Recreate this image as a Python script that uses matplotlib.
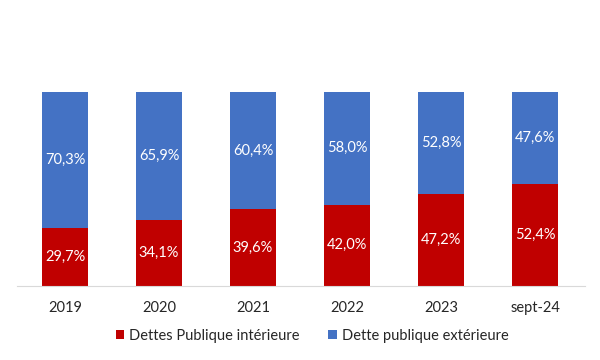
import matplotlib
matplotlib.use("Agg")
import matplotlib.pyplot as plt
import numpy as np

categories = ["2019", "2020", "2021", "2022", "2023", "sept-24"]
interieure = [29.7, 34.1, 39.6, 42.0, 47.2, 52.4]
exterieure = [70.3, 65.9, 60.4, 58.0, 52.8, 47.6]

RED = "#C00000"
BLUE = "#4472C4"

plt.rcParams["font.family"] = ["Lato", "DejaVu Sans"]

fig = plt.figure(figsize=(6, 3.6), dpi=100)
ax = fig.add_axes([17 / 600, 1 - 286 / 360, 568 / 600, 194 / 360])

x = np.arange(len(categories))
w = 0.49
b1 = ax.bar(x, interieure, w, color=RED, label="Dettes Publique intérieure")
b2 = ax.bar(x, exterieure, w, bottom=interieure, color=BLUE, label="Dette publique extérieure")

fmt = lambda v: f"{v:.1f}%".replace(".", ",")
for xi, a, b in zip(x, interieure, exterieure):
    ax.text(xi, a / 2, fmt(a), ha="center", va="center", color="white", fontsize=10.5)
    ax.text(xi, a + b / 2, fmt(b), ha="center", va="center", color="white", fontsize=10.5)

ax.set_xlim(-0.51, 5.53)
ax.set_ylim(0, 100)
for s in ["top", "right", "left"]:
    ax.spines[s].set_visible(False)
ax.spines["bottom"].set_color("#D9D9D9")
ax.set_yticks([])
ax.set_xticks(x)
ax.set_xticklabels(categories, fontsize=10.5, color="#262626")
ax.tick_params(axis="x", length=0, pad=11)

fig.legend(handles=[b1, b2], loc="center", bbox_to_anchor=(0.52, 1 - 336 / 360),
           ncol=2, frameon=False, fontsize=10.5, handlelength=0.6, handleheight=0.6,
           handletextpad=0.3, columnspacing=2.0, labelcolor="#262626")

fig.savefig("out.png", dpi=100)
